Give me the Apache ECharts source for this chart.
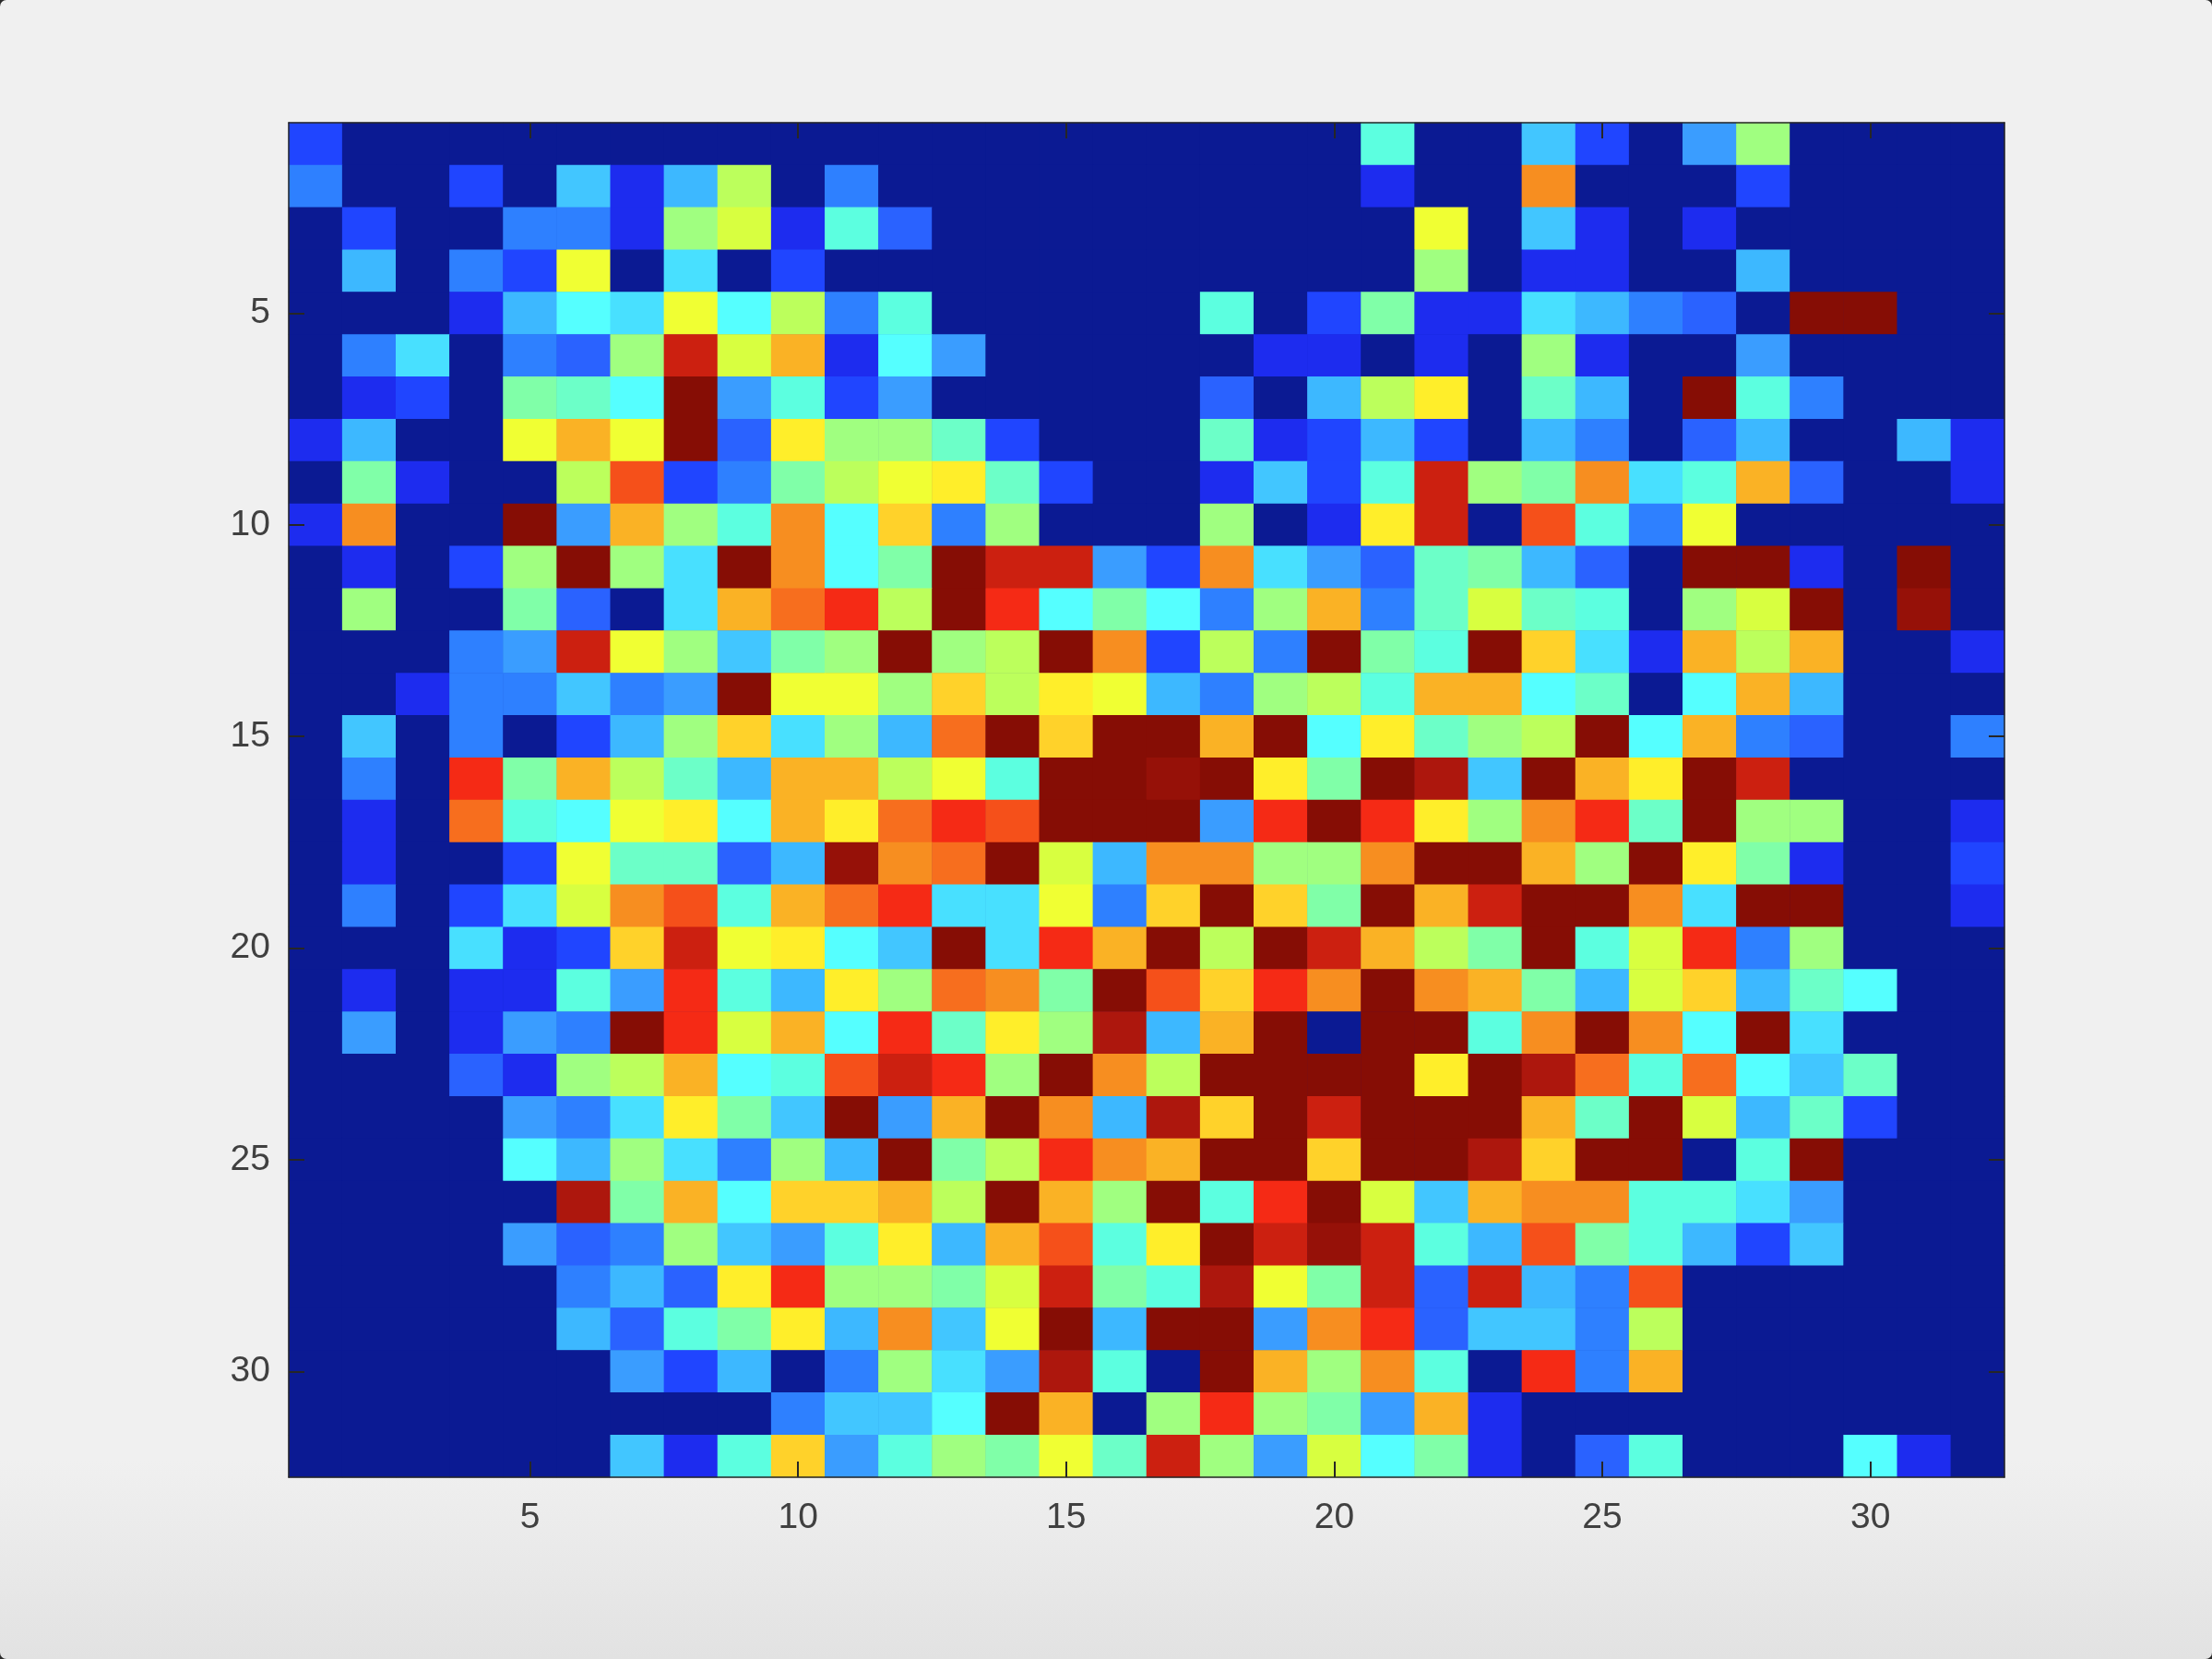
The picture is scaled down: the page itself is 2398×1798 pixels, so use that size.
<!DOCTYPE html>
<html>
<head>
<meta charset="utf-8">
<style>
html,body{margin:0;padding:0;width:2398px;height:1798px;overflow:hidden;background:#2a2a2a}
#bg{position:absolute;left:0;top:0;width:2398px;height:1798px;border-radius:7px;background:linear-gradient(to bottom,#f0f0f0 0,#f0f0f0 88%,#e2e2e2 100%)}
#c{position:absolute;left:0;top:0;width:2398px;height:1798px}
</style>
<script src="https://cdn.jsdelivr.net/npm/echarts@6/dist/echarts.min.js"></script>
</head>
<body>
<div id="bg"></div>
<div id="c"></div>
<script>
const palette = ['#0b1a93','#1d2cef','#2045ff','#2a62ff','#2e80ff','#3a9dff','#3db8ff','#42c6ff','#48e0ff','#55ffff','#5cffe0','#6cffc8','#80ffa8','#a0ff80','#bcff5c','#d8ff40','#f0ff33','#ffee2a','#ffd22a','#fab225','#f78e20','#f76e1e','#f5501a','#f52a15','#cc2010','#ad170d','#860d05'];
const row1  = [2,0,0,0,0,0,0,0,0,0,0,0,0,0,0,0,0,0,0,0,10,0,0,7,2,0,5,13,0,0,0,0];
const row2  = [4,0,0,2,0,7,1,6,14,0,4,0,0,0,0,0,0,0,0,0,1,0,0,20,0,0,0,2,0,0,0,0];
const row3  = [0,2,0,0,4,4,1,13,15,1,10,3,0,0,0,0,0,0,0,0,0,16,0,7,1,0,1,0,0,0,0,0];
const row4  = [0,6,0,4,2,16,0,8,0,2,0,0,0,0,0,0,0,0,0,0,0,13,0,1,1,0,0,6,0,0,0,0];
const row5  = [0,0,0,1,6,9,8,16,9,14,4,10,0,0,0,0,0,10,0,2,12,1,1,8,6,4,3,0,26,26,0,0];
const row6  = [0,4,8,0,4,3,13,24,15,19,1,9,5,0,0,0,0,0,1,1,0,1,0,13,1,0,0,5,0,0,0,0];
const row7  = [0,1,2,0,12,11,9,26,5,10,2,5,0,0,0,0,0,3,0,6,14,17,0,11,6,0,26,10,4,0,0,0];
const row8  = [1,6,0,0,16,19,16,26,3,17,13,13,11,2,0,0,0,11,1,2,6,2,0,6,4,0,3,6,0,0,6,1];
const row9  = [0,12,1,0,0,14,22,2,4,12,14,16,17,11,2,0,0,1,7,2,10,24,13,12,20,8,10,19,3,0,0,1];
const row10 = [1,20,0,0,26,5,19,13,10,20,9,18,4,13,0,0,0,13,0,1,17,24,0,22,10,4,16,0,0,0,0,0];
const row11 = [0,1,0,2,13,26,13,8,26,20,9,12,26,24,24,5,2,20,8,5,3,11,12,6,3,0,26,26,1,0,26,0];
const row12 = [0,13,0,0,12,3,0,8,19,21,23,14,26,23,9,12,9,4,13,19,4,11,15,11,10,0,13,15,26,0,25.6,0];
const row13 = [0,0,0,4,5,24,16,13,7,12,13,26,13,14,26,20,2,14,4,26,12,10,26,18,8,1,19,14,19,0,0,1];
const row14 = [0,0,1,4,4,7,4,5,26,16,16,13,18,14,17,16,6,4,13,14,10,19,19,9,11,0,9,19,6,0,0,0];
const row15 = [0,7,0,4,0,2,6,13,18,8,13,6,21,26,18,26,26,19,26,9,17,11,13,14,26,9,19,4,3,0,0,4];
const row16 = [0,4,0,23,12,19,14,11,6,19,19,14,16,10,26,26,25.6,26,17,12,26,25,7,26,19,17,26,24,0,0,0,0];
const row17 = [0,1,0,21,10,9,16,17,9,19,17,21,23,22,26,26,26,5,23,26,23,17,13,20,23,11,26,13,13,0,0,1];
const row18 = [0,1,0,0,2,16,11,11,3,6,25.6,20,21,26,15,6,20,20,13,13,20,26,26,19,13,26,17,12,1,0,0,2];
const row19 = [0,4,0,2,8,15,20,22,10,19,21,23,8,8,16,4,18,26,18,12,26,19,24,26,26,20,8,26,26,0,0,1];
const row20 = [0,0,0,8,1,2,18,24,16,17,9,7,26,8,23,19,26,14,26,24,19,14,12,26,10,15,23,4,13,0,0,0];
const row21 = [0,1,0,1,1,10,5,23,10,6,17,13,21,20,12,26,22,18,23,20,26,20,19,12,6,15,18,6,11,9,0,0];
const row22 = [0,5,0,1,5,4,26,23,15,19,9,23,11,17,13,25,6,19,26,0,26,26,10,20,26,20,9,26,8,0,0,0];
const row23 = [0,0,0,3,1,13,14,19,9,10,22,24,23,13,26,20,14,26,26,26,26,17,26,25,21,10,21,9,7,11,0,0];
const row24 = [0,0,0,0,5,4,8,17,12,7,26,5,19,26,20,6,25,18,26,24,26,26,26,19,11,26,15,6,11,2,0,0];
const row25 = [0,0,0,0,9,6,13,8,4,13,6,26,12,14,23,20,19,26,26,18,26,26,25,18,26,26,0,10,26,0,0,0];
const row26 = [0,0,0,0,0,25,12,19,9,18,18,19,14,26,19,13,26,10,23,26,15,7,19,20,20,10,10,8,5,0,0,0];
const row27 = [0,0,0,0,5,3,4,13,7,5,10,17,6,19,22,10,17,26,24,25.6,24,10,6,22,12,10,6,2,7,0,0,0];
const row28 = [0,0,0,0,0,4,6,3,17,23,13,13,12,15,24,12,10,25,16,12,24,3,24,6,4,22,0,0,0,0,0,0];
const row29 = [0,0,0,0,0,6,3,10,12,17,6,20,7,16,26,6,26,26,5,20,23,3,7,7,4,14,0,0,0,0,0,0];
const row30 = [0,0,0,0,0,0,5,2,6,0,4,13,8,5,25,10,0,26,19,13,20,10,0,23,4,19,0,0,0,0,0,0];
const row31 = [0,0,0,0,0,0,0,0,0,4,7,7,9,26,19,0,13,23,13,12,5,19,1,0,0,0,0,0,0,0,0,0];
const row32 = [0,0,0,0,0,0,7,1,10,18,5,10,13,12,16,11,24,13,5,15,9,12,1,0,3,10,0,0,0,9,1,0];
const rows = [row1,row2,row3,row4,row5,row6,row7,row8,row9,row10,row11,row12,row13,row14,row15,row16,row17,row18,row19,row20,row21,row22,row23,row24,row25,row26,row27,row28,row29,row30,row31,row32];
const categories = rows.map((_, i) => String(i + 1));
const cells = [];
rows.forEach((r, y) => r.forEach((v, x) => cells.push([x, y, v])));
const every5 = i => (i + 1) % 5 === 0;
const ink = '#262626';
const labelStyle = {interval: every5, fontFamily: 'Liberation Sans', fontSize: 39, color: '#404040', margin: 25};
function axis(extra) {
  return Object.assign({
    type: 'category', data: categories, z: 5, boundaryGap: true,
    axisLine: {show: true, lineStyle: {color: ink, width: 1.5}},
    axisTick: {show: true, inside: true, alignWithLabel: true, interval: every5, length: 17, lineStyle: {color: ink, width: 2}},
    splitLine: {show: false}, splitArea: {show: false}
  }, extra);
}
const chart = echarts.init(document.getElementById('c'), null, {renderer: 'canvas', width: 2398, height: 1798});
chart.setOption({
  animation: false,
  backgroundColor: 'transparent',
  grid: {show: true, backgroundColor: palette[0], borderWidth: 0, left: 313, top: 133, width: 1860, height: 1468, containLabel: false},
  xAxis: [
    axis({position: 'bottom', axisLabel: labelStyle}),
    axis({position: 'top', axisLabel: {show: false}})
  ],
  yAxis: [
    axis({position: 'left', inverse: true, axisLabel: Object.assign({}, labelStyle, {margin: 20, padding: [12, 0, 0, 0]})}),
    axis({position: 'right', inverse: true, axisLabel: {show: false}})
  ],
  visualMap: {show: false, type: 'continuous', min: 0, max: palette.length - 1, inRange: {color: palette}, seriesIndex: 0, dimension: 2},
  series: [{
    type: 'heatmap', xAxisIndex: 0, yAxisIndex: 0, data: cells, progressive: 0,
    itemStyle: {borderWidth: 0}, emphasis: {disabled: true}, label: {show: false}
  }]
});
</script>
</body>
</html>
